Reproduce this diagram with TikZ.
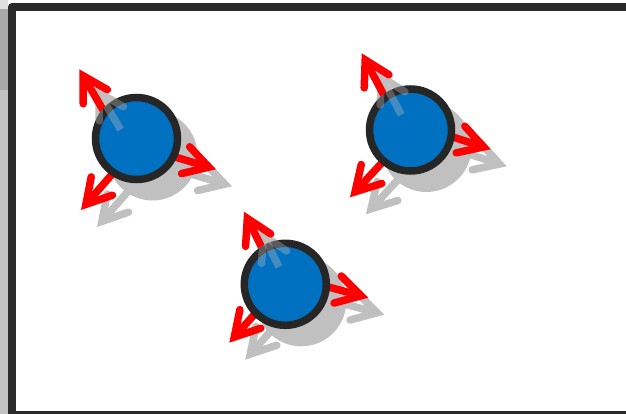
\documentclass[tikz,border=0pt]{standalone}
\usetikzlibrary{calc}

\definecolor{ballblue}{HTML}{0070C0}
\definecolor{ringgray}{HTML}{262626}
\definecolor{spinred}{HTML}{FF0000}
\definecolor{shadowgray}{HTML}{C0C0C0}
\definecolor{framedark}{HTML}{2A2A2A}
\definecolor{stripgray}{HTML}{C2C2C2}
\definecolor{stripdark}{HTML}{A9A9A9}
\definecolor{striplight}{HTML}{DEDEDE}

\pgfdeclarelayer{back}
\pgfdeclarelayer{shade}
\pgfdeclarelayer{spin}
\pgfdeclarelayer{gloss}
\pgfsetlayers{back,shade,spin,main,gloss}

\tikzset{
  particle/.style={circle, fill=ballblue, draw=ringgray, line width=7.5pt,
    minimum size=82pt, inner sep=0pt, outer sep=0pt},
  spinline/.style={draw=spinred, line width=7.5pt},
  shadeline/.style={draw=shadowgray, line width=7.5pt},
}

% arrow with a sharp chevron head: style, start, outer tip
\newcommand\spinarrow[3]{%
  \coordinate (tiphead) at ($(#3)!7.5pt!(#2)$);
  \draw[#1, line cap=butt] (#2) -- (tiphead);
  \draw[#1, line cap=round, line join=miter]
    ($(tiphead)!28pt!30:(#2)$) -- (tiphead) -- ($(tiphead)!28pt!-30:(#2)$);
}

\begin{document}
\begin{tikzpicture}[x=1pt, y=1pt]
    \useasboundingbox (0,0) rectangle (626,-414);

    % --- particles ---
    \node[particle] (p1) at (136.5,-138.5) {};
    \node[particle] (p2) at (410.5,-130) {};
    \node[particle] (p3) at (285.3,-284.3) {};

    % --- arrow tips (a: up-left, b: right, c: down-left) ---
    \coordinate (p1a) at (79.3,-69.3);
    \coordinate (p1b) at (216,-169.3);
    \coordinate (p1c) at (81,-210);
    \coordinate (p2a) at (361.7,-53.3);
    \coordinate (p2b) at (490.7,-149.3);
    \coordinate (p2c) at (350,-197.3);
    \coordinate (p3a) at (244,-211.7);
    \coordinate (p3b) at (368.3,-297.7);
    \coordinate (p3c) at (229.3,-342.7);

    % --- window background and frame ---
    \begin{pgfonlayer}{back}
        \fill[white] (0,0) rectangle (626,-414);
        \fill[stripgray] (0,0) rectangle (8,-414);
        \fill[striplight] (0,0) rectangle (8,-9);
        \fill[stripdark] (0,-9) rectangle (8,-90);
        \draw[framedark, line width=8pt, line join=round] (12,-7) rectangle (640,-415);
    \end{pgfonlayer}

    \foreach \p/\sa/\sb/\sc in {p1/141/-26/-124, p2/128/-9/-131, p3/123/-3/-136} {
        % shadow
        \begin{pgfonlayer}{shade}
            \fill[shadowgray] ([shift={(16,-17)}]\p) circle (45);
            \begin{scope}[transform canvas={shift={(16pt,-17pt)}}]
                \spinarrow{shadeline}{\p.\sa}{\p a}
                \spinarrow{shadeline}{\p.\sb}{\p b}
                \spinarrow{shadeline}{\p.\sc}{\p c}
            \end{scope}
        \end{pgfonlayer}
        % red arrows
        \begin{pgfonlayer}{spin}
            \spinarrow{spinline}{\p.\sa}{\p a}
            \spinarrow{spinline}{\p.\sb}{\p b}
            \spinarrow{spinline}{\p.\sc}{\p c}
        \end{pgfonlayer}
        % shadow seen through the ball
        \begin{pgfonlayer}{gloss}
            \begin{scope}
                \clip (\p) circle (45);
                \begin{scope}[transform canvas={shift={(16pt,-17pt)}}, opacity=0.35]
                    \spinarrow{shadeline}{\p.\sa}{\p a}
                \end{scope}
            \end{scope}
        \end{pgfonlayer}
    }
\end{tikzpicture}
\end{document}
